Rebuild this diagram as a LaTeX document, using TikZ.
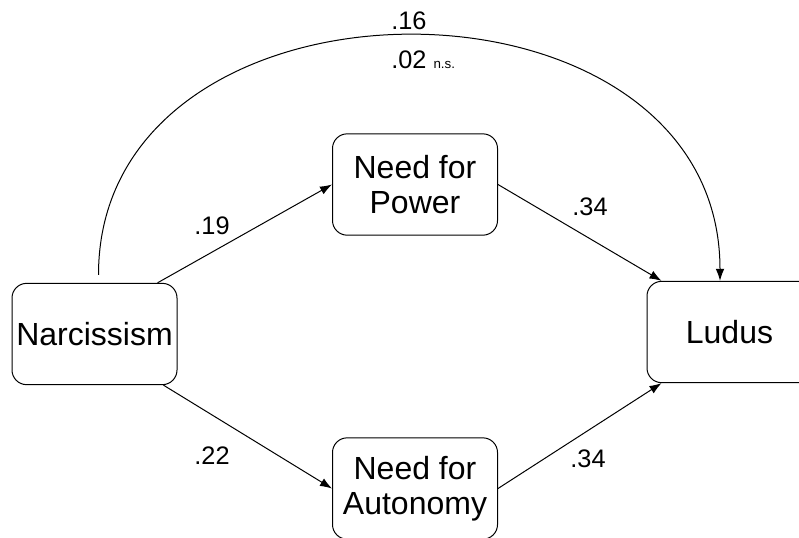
\documentclass[tikz,border=0pt]{standalone}
\usepackage{fontspec}
\setmainfont{Liberation Sans}
\usetikzlibrary{calc, arrows.meta}

\tikzset{
	var/.style={draw, line width=0.75pt, rounded corners=11pt, inner sep=0pt,
		minimum width=123.75pt, minimum height=76pt, align=center,
		font=\fontsize{24}{26}\selectfont},
	link/.style={line width=0.75pt, -{Latex[length=9pt, width=6.5pt]}},
	coef/.style={inner sep=0pt, font=\fontsize{19}{22}\selectfont}
}

\begin{document}
\begin{tikzpicture}[x=0.75pt, y=-0.75pt]
	\useasboundingbox (0,0) rectangle (799,537);

	\node [var] (narc) at (94.5,334) {Narcissism};
	\node [var] (power) at (415,184.5) {Need for\\Power};
	\node [var] (auton) at (415,488.5) {Need for\\Autonomy};
	\node [var] (ludus) at (729.5,332) {Ludus};

	% indirect paths
	\draw [link] ($ (narc.north east) + (-20,0) $) -- (power.west);
	\draw [link] ($ (narc.south east) + (-14,0) $) -- (auton.west);
	\draw [link] (power.east) -- ($ (ludus.north west) + (15,0) $);
	\draw [link] (auton.east) -- ($ (ludus.south west) + (15,0) $);

	% direct path
	\draw [link] ($ (narc.north) + (4,-8) $) .. controls +(0,-320) and +(0,-326) .. ($ (ludus.north) + (-9.5,0) $);

	\node [coef] (c19) at (212,226) {.19};
	\node [coef] (c22) at (212,456) {.22};
	\node [coef] (c34a) at (590,207) {.34};
	\node [coef] (c34b) at (588,459) {.34};
	\node [coef, anchor=base west] (c16) at (391,29) {.16};
	\node [coef, anchor=base west] (c02) at (391,68) {.02 {\fontsize{10}{12}\selectfont n.s.}};
\end{tikzpicture}
\end{document}
